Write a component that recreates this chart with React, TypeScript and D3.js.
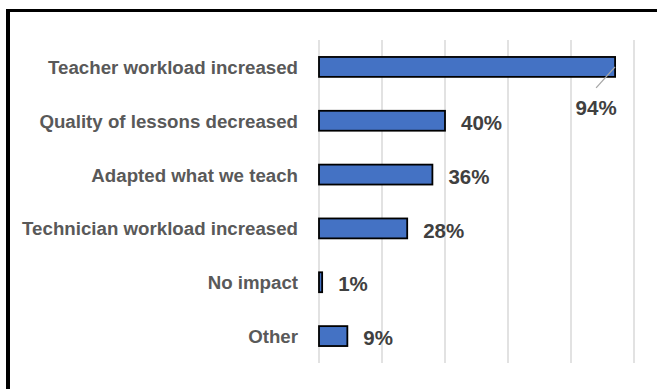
import * as d3 from 'd3';
import { useRef, useEffect } from 'react';

const categories: string[] = [
    'Teacher workload increased',
    'Quality of lessons decreased',
    'Adapted what we teach',
    'Technician workload increased',
    'No impact',
    'Other',
];
const values: number[] = [94, 40, 36, 28, 1, 9];
const gridTicks: number[] = [0, 20, 40, 60, 80, 100];

const App = () => {
    const ref = useRef<SVGSVGElement>(null);

    useEffect(() => {
        if (!ref.current) return;
        const svg = d3.select(ref.current);
        svg.selectAll('*').remove();

        const width = 657, height = 389;
        const left = 319, right = 634, top = 40, bottom = 363;

        // outer frame, only top and left edges are visible in the crop
        svg.append('line')
            .attr('x1', 6).attr('x2', width)
            .attr('y1', 10.5).attr('y2', 10.5)
            .attr('stroke', '#000').attr('stroke-width', 3);
        svg.append('line')
            .attr('x1', 8).attr('x2', 8)
            .attr('y1', 9).attr('y2', height)
            .attr('stroke', '#000').attr('stroke-width', 4);

        const x = d3.scaleLinear().domain([0, 100]).range([left, right]);
        const y = d3.scaleBand<string>()
            .domain(categories)
            .range([top, bottom])
            .paddingInner(0.63)
            .paddingOuter(0.315);

        svg.append('g')
            .selectAll('line')
            .data(gridTicks)
            .enter().append('line')
            .attr('x1', d => x(d)).attr('x2', d => x(d))
            .attr('y1', top).attr('y2', bottom)
            .attr('stroke', '#d9d9d9')
            .attr('stroke-width', 1.5);

        svg.append('g')
            .selectAll('rect')
            .data(values)
            .enter().append('rect')
            .attr('x', x(0))
            .attr('y', (d, i) => y(categories[i])!)
            .attr('width', d => x(d) - x(0))
            .attr('height', y.bandwidth())
            .attr('fill', '#4472c4')
            .attr('stroke', '#000')
            .attr('stroke-width', 1.8);

        svg.append('g')
            .selectAll('text')
            .data(categories)
            .enter().append('text')
            .attr('x', left - 21)
            .attr('y', d => y(d)! + y.bandwidth() / 2)
            .attr('dy', '0.37em')
            .attr('text-anchor', 'end')
            .style('font-family', '"Liberation Sans", Arial, sans-serif')
            .style('font-weight', 'bold')
            .style('font-size', '18.7px')
            .style('fill', '#595959')
            .text(d => d);

        const labelFont = (sel: d3.Selection<SVGTextElement, any, any, any>) => sel
            .style('font-family', '"Liberation Sans", Arial, sans-serif')
            .style('font-weight', 'bold')
            .style('font-size', '20.5px')
            .style('fill', '#404040');

        values.forEach((v, i) => {
            const cy = y(categories[i])! + y.bandwidth() / 2;
            if (i === 0) {
                // label moved below the bar end with a leader line
                svg.append('line')
                    .attr('x1', x(v)).attr('y1', cy)
                    .attr('x2', x(v) - 19).attr('y2', cy + 21)
                    .attr('stroke', '#a6a6a6')
                    .attr('stroke-width', 1.3);
                svg.append('text')
                    .attr('x', x(v) - 19)
                    .attr('y', cy + 48)
                    .attr('text-anchor', 'middle')
                    .call(labelFont)
                    .text(v + '%');
            } else {
                svg.append('text')
                    .attr('x', x(v) + 16)
                    .attr('y', cy)
                    .attr('dy', '0.45em')
                    .call(labelFont)
                    .text(v + '%');
            }
        });
    }, []);

    return (
        <svg ref={ref} width={657} height={389}
            style={{ position: 'absolute', left: 0, top: 0, background: '#fff' }}></svg>
    );
};

export default App;
